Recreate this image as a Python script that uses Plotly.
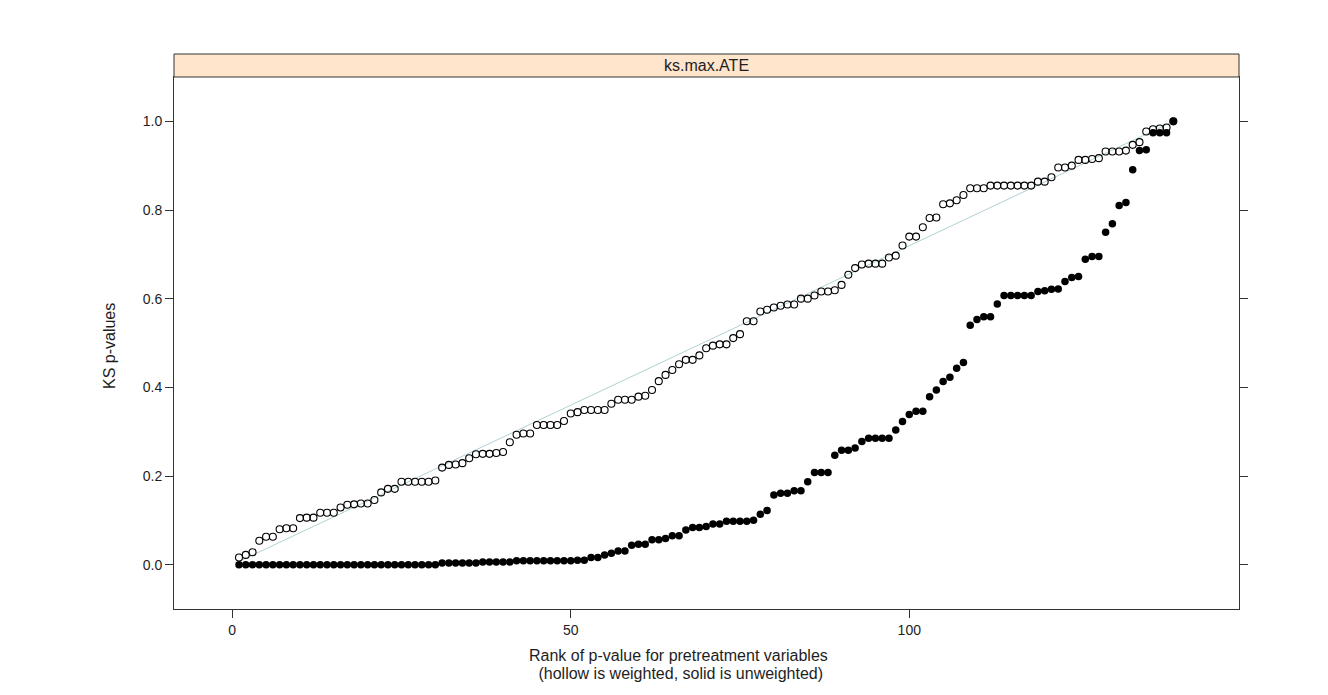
import plotly.graph_objects as go

# ---------------- data ----------------
ranks = list(range(1, 140))

weighted_p = [
    0.016, 0.022, 0.028, 0.054, 0.063, 0.063, 0.080, 0.082, 0.082, 0.105,
    0.106, 0.106, 0.117, 0.117, 0.117, 0.129, 0.135, 0.136, 0.138, 0.138,
    0.146, 0.163, 0.171, 0.171, 0.187, 0.187, 0.187, 0.187, 0.187, 0.190,
    0.219, 0.225, 0.226, 0.229, 0.240, 0.249, 0.250, 0.250, 0.252, 0.254,
    0.276, 0.293, 0.296, 0.296, 0.315, 0.315, 0.315, 0.315, 0.324, 0.341,
    0.344, 0.349, 0.349, 0.349, 0.349, 0.363, 0.372, 0.372, 0.372, 0.379,
    0.381, 0.394, 0.414, 0.428, 0.439, 0.452, 0.462, 0.462, 0.472, 0.488,
    0.494, 0.497, 0.497, 0.511, 0.520, 0.549, 0.549, 0.571, 0.575, 0.580,
    0.584, 0.587, 0.587, 0.600, 0.600, 0.607, 0.616, 0.616, 0.619, 0.631,
    0.654, 0.669, 0.677, 0.679, 0.679, 0.679, 0.693, 0.697, 0.720, 0.740,
    0.740, 0.761, 0.782, 0.783, 0.813, 0.815, 0.822, 0.834, 0.849, 0.849,
    0.849, 0.855, 0.855, 0.855, 0.855, 0.855, 0.855, 0.855, 0.864, 0.864,
    0.874, 0.896, 0.896, 0.900, 0.913, 0.913, 0.915, 0.917, 0.932, 0.932,
    0.932, 0.934, 0.947, 0.953, 0.977, 0.982, 0.984, 0.986, 1.000,
]

unweighted_p = [
    0.000, 0.000, 0.000, 0.000, 0.000, 0.000, 0.000, 0.000, 0.000, 0.000,
    0.000, 0.000, 0.000, 0.000, 0.000, 0.000, 0.000, 0.000, 0.000, 0.000,
    0.000, 0.000, 0.000, 0.000, 0.000, 0.000, 0.000, 0.000, 0.000, 0.000,
    0.004, 0.004, 0.004, 0.004, 0.004, 0.004, 0.006, 0.006, 0.006, 0.006,
    0.006, 0.009, 0.009, 0.009, 0.009, 0.009, 0.009, 0.009, 0.009, 0.009,
    0.010, 0.010, 0.016, 0.016, 0.022, 0.026, 0.031, 0.031, 0.044, 0.046,
    0.046, 0.056, 0.056, 0.059, 0.065, 0.065, 0.078, 0.084, 0.084, 0.086,
    0.092, 0.092, 0.098, 0.098, 0.098, 0.098, 0.100, 0.114, 0.122, 0.157,
    0.161, 0.161, 0.167, 0.167, 0.187, 0.208, 0.208, 0.208, 0.247, 0.258,
    0.258, 0.263, 0.278, 0.285, 0.285, 0.285, 0.285, 0.304, 0.323, 0.339,
    0.346, 0.346, 0.379, 0.394, 0.413, 0.423, 0.443, 0.456, 0.540, 0.553,
    0.559, 0.559, 0.588, 0.607, 0.607, 0.607, 0.607, 0.607, 0.616, 0.618,
    0.621, 0.622, 0.639, 0.648, 0.650, 0.689, 0.695, 0.695, 0.750, 0.769,
    0.810, 0.817, 0.891, 0.934, 0.936, 0.974, 0.974, 0.974, 1.000,
]

n_vars = len(ranks)
uniform_ref = [r / n_vars for r in ranks]

x_ticks = [0, 50, 100]
y_ticks = [0.0, 0.2, 0.4, 0.6, 0.8, 1.0]
y_tick_labels = ["0.0", "0.2", "0.4", "0.6", "0.8", "1.0"]

panel_title = "ks.max.ATE"
x_title_lines = ["Rank of p-value for pretreatment variables",
                 " (hollow is weighted, solid is unweighted)"]
y_title = "KS p-values"

# ---------------- figure ----------------
FONT = "Liberation Sans, Arial, sans-serif"
AX = "#333333"
TXT = "#1e1e1e"
W, H = 1328, 695
ML, MR, MT, MB = 166, 97, 46, 94
paper_w = W - ML - MR
paper_h = H - MT - MB
strip_h = 23
ydom_top = (paper_h - strip_h) / paper_h

fig = go.Figure()

fig.add_trace(go.Scatter(
    x=ranks, y=uniform_ref, mode="lines",
    line=dict(color="#b3d0d3", width=1), hoverinfo="skip",
))
fig.add_trace(go.Scatter(
    x=ranks, y=weighted_p, mode="markers", name="weighted",
    marker=dict(symbol="circle-open", size=7, color="black",
                line=dict(color="black", width=1.1)),
))
fig.add_trace(go.Scatter(
    x=ranks, y=unweighted_p, mode="markers", name="unweighted",
    marker=dict(symbol="circle", size=7.5, color="black"),
))

axis_font = dict(family=FONT, size=14, color=TXT)

fig.update_layout(
    width=W, height=H,
    margin=dict(l=ML, r=MR, t=MT, b=MB, pad=0),
    paper_bgcolor="white", plot_bgcolor="white",
    showlegend=False,
    font=dict(family=FONT, color=TXT),
    xaxis=dict(
        range=[-8.6, 148.7], tickvals=x_ticks, ticks="outside", ticklen=8,
        tickwidth=1, tickcolor=AX, showline=True, linecolor=AX, linewidth=1,
        mirror=True, showgrid=False, zeroline=False, tickfont=axis_font,
        domain=[0, 1],
    ),
    xaxis2=dict(
        range=[-8.6, 148.7], tickvals=x_ticks, ticks="outside", ticklen=8,
        tickwidth=1, tickcolor=AX, showticklabels=False, showline=False,
        showgrid=False, zeroline=False, overlaying="x", side="top",
        anchor="free", position=1, matches="x",
    ),
    yaxis=dict(
        range=[-0.1, 1.1], tickvals=y_ticks, ticktext=y_tick_labels,
        ticks="outside", ticklen=8, tickwidth=1, tickcolor=AX,
        showline=True, linecolor=AX, linewidth=1, mirror="ticks",
        showgrid=False, zeroline=False, tickfont=axis_font,
        domain=[0, ydom_top],
    ),
)

# strip
fig.add_shape(type="rect", xref="paper", yref="paper",
              x0=0, x1=1, y0=ydom_top, y1=1,
              fillcolor="#ffe5cc", line=dict(color=AX, width=1), layer="above")
fig.add_annotation(text=panel_title, xref="paper", yref="paper",
                   x=0.5, y=(ydom_top + 1) / 2, xanchor="center", yanchor="middle",
                   showarrow=False, font=dict(family=FONT, size=16, color=TXT))

# axis titles
for line_text, y_px in zip(x_title_lines, [647, 665]):
    fig.add_annotation(text=line_text, xref="paper", yref="paper",
                       x=(670 - ML) / paper_w, y=(H - MB - y_px) / paper_h,
                       xanchor="center", yanchor="middle", showarrow=False,
                       font=dict(family=FONT, size=16, color=TXT))
fig.add_annotation(text=y_title, xref="paper", yref="paper",
                   x=(101 - ML) / paper_w, y=(H - MB - 338) / paper_h,
                   xanchor="center", yanchor="middle", textangle=-90,
                   showarrow=False, font=dict(family=FONT, size=16, color=TXT))

fig.write_html("out.html")
